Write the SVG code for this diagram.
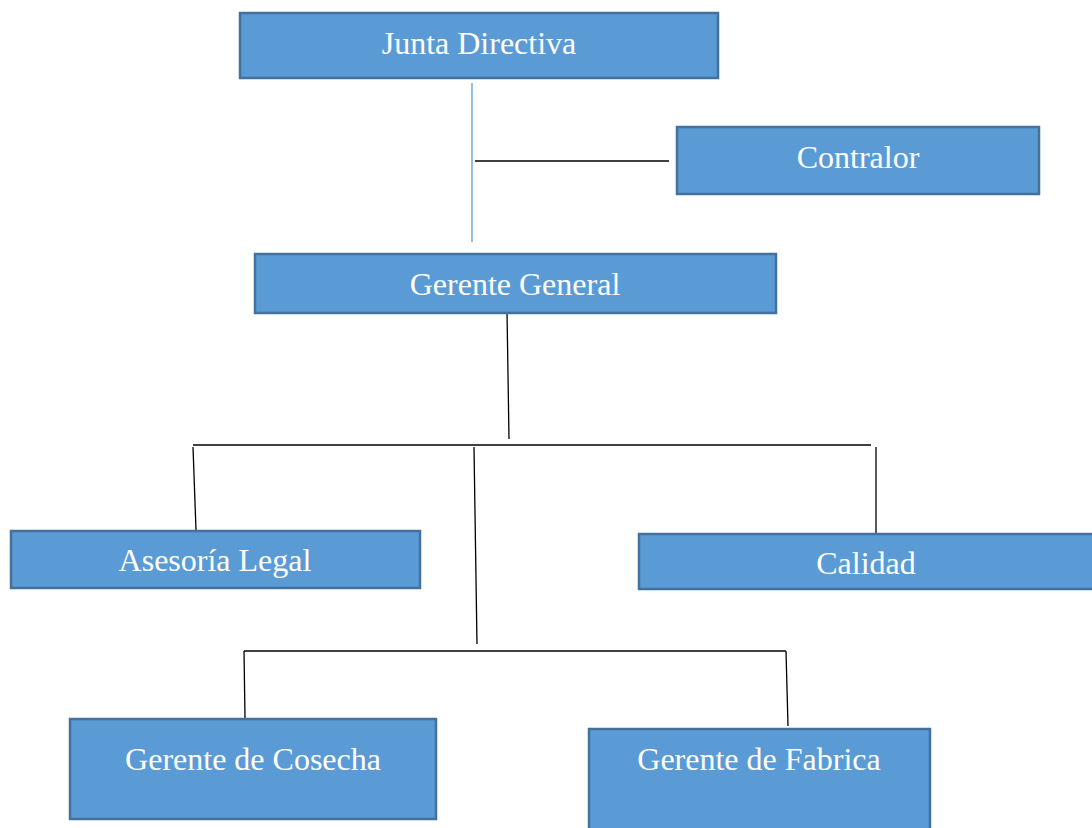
<svg xmlns="http://www.w3.org/2000/svg" width="1092" height="828" viewBox="0 0 1092 828">
<style>
.box{fill:#5B9BD5;stroke:#41719C;stroke-width:2.5}
.lbl{font-family:"Liberation Serif","Times New Roman",serif;font-size:32px;fill:#ffffff;text-anchor:middle}
.ln{stroke:#000;stroke-width:1.3;fill:none}
.bl{stroke:#5B9BD5;stroke-width:1.3;fill:none}
</style>
<rect width="1092" height="828" fill="#ffffff"/>
<g id="connectors">
<line class="bl" x1="472" y1="83" x2="472" y2="242"/>
<line class="ln" x1="475" y1="161" x2="669" y2="161"/>
<line class="ln" x1="507" y1="311" x2="509" y2="439"/>
<line class="ln" x1="193" y1="445" x2="871" y2="445"/>
<line class="ln" x1="193" y1="447" x2="196" y2="530"/>
<line class="ln" x1="474" y1="447" x2="477" y2="644"/>
<line class="ln" x1="876" y1="447" x2="876" y2="537"/>
<line class="ln" x1="244" y1="651" x2="786" y2="651"/>
<line class="ln" x1="244" y1="651" x2="245" y2="718"/>
<line class="ln" x1="786" y1="651" x2="788" y2="726"/>
</g>
<g id="junta"><rect class="box" x="240" y="13" width="478" height="65"/><text class="lbl" x="479" y="54">Junta Directiva</text></g>
<g id="contralor"><rect class="box" x="677" y="127" width="362" height="67"/><text class="lbl" x="858" y="168">Contralor</text></g>
<g id="gerente-general"><rect class="box" x="255" y="254" width="521" height="59"/><text class="lbl" x="515" y="295">Gerente General</text></g>
<g id="asesoria"><rect class="box" x="11" y="531" width="409" height="57"/><text class="lbl" x="215" y="571">Asesoría Legal</text></g>
<g id="calidad"><rect class="box" x="639" y="534" width="460" height="55"/><text class="lbl" x="866" y="574">Calidad</text></g>
<g id="cosecha"><rect class="box" x="70" y="719" width="366" height="100"/><text class="lbl" x="253" y="770">Gerente de Cosecha</text></g>
<g id="fabrica"><rect class="box" x="589" y="729" width="341" height="110"/><text class="lbl" x="759" y="770">Gerente de Fabrica</text></g>
</svg>
